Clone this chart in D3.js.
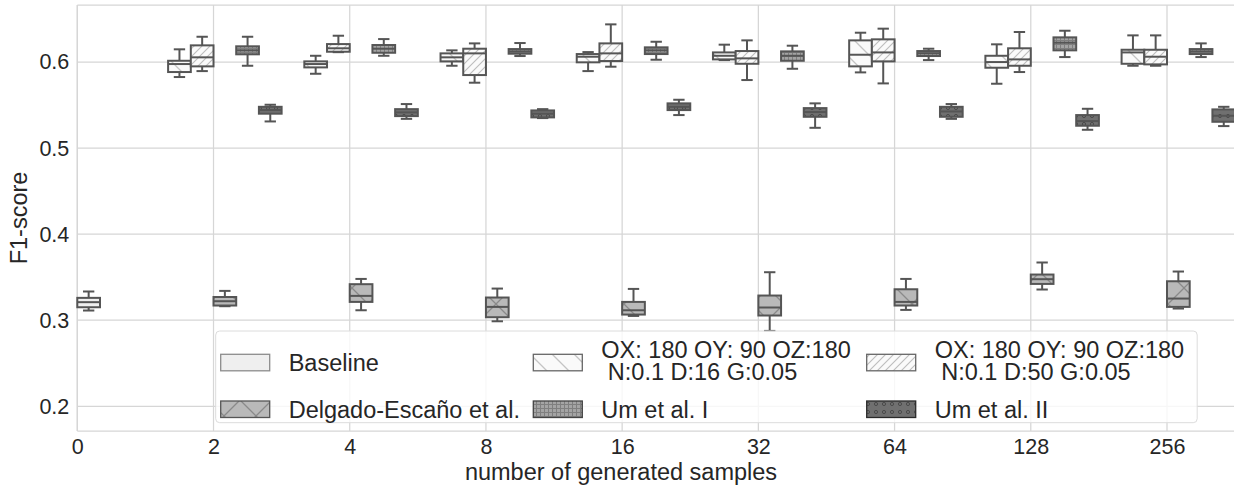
<!DOCTYPE html>
<html>
<head>
<meta charset="utf-8">
<style>
    body { margin: 0; background: #fff; }
    svg { display: block; font-family: 'Liberation Sans', Arial, sans-serif; }
    .grid line { stroke: #d6d6d6; stroke-width: 1.25; }
    .axis .domain { display: none; }
    .axis .tick line { display: none; }
    .axis .tick text { font-size: 21.5px; fill: #262626; }
</style>
</head>
<body>
<svg width="1234" height="489"></svg>
<script src="https://d3js.org/d3.v7.min.js"></script>
<script>
// categories on the x axis
const categories = ["0", "2", "4", "8", "16", "32", "64", "128", "256"];
const yTicks = [0.2, 0.3, 0.4, 0.5, 0.6];

// box stats per category: [low whisker, q1, median, q3, high whisker]
const baseline = [[0.3113, 0.3151, 0.321, 0.326, 0.3334], null, null, null, null, null, null, null, null];
const ox16 = [null,
    [0.5826, 0.5884, 0.5977, 0.6015, 0.6148], [0.5864, 0.5938, 0.5977, 0.6008, 0.6073],
    [0.5957, 0.6008, 0.6055, 0.6101, 0.6136], [0.5895, 0.5997, 0.6062, 0.6093, 0.6116],
    [0.6023, 0.6031, 0.6073, 0.6112, 0.6202], [0.588, 0.595, 0.6085, 0.6252, 0.6341],
    [0.5748, 0.5934, 0.6, 0.6073, 0.6206], [0.5957, 0.598, 0.6112, 0.6143, 0.631]];
const ox50 = [null,
    [0.5895, 0.595, 0.6055, 0.6194, 0.6294], [0.6115, 0.612, 0.616, 0.6209, 0.6306],
    [0.576, 0.5849, 0.6101, 0.6155, 0.6217], [0.5946, 0.6012, 0.6101, 0.6217, 0.6438],
    [0.5791, 0.598, 0.6043, 0.6128, 0.6252], [0.5752, 0.6008, 0.6112, 0.6264, 0.6388],
    [0.5884, 0.5957, 0.6031, 0.616, 0.6349], [0.5957, 0.5973, 0.6062, 0.6143, 0.631]];
const delgado = [null,
    [0.3163, 0.3171, 0.3221, 0.327, 0.3341], [0.3116, 0.3213, 0.3283, 0.3419, 0.348],
    [0.2988, 0.3035, 0.3155, 0.3264, 0.3368], [0.305, 0.3066, 0.3116, 0.3213, 0.3364],
    [0.2876, 0.3055, 0.3148, 0.3287, 0.3558], [0.312, 0.3171, 0.3213, 0.336, 0.348],
    [0.3357, 0.3422, 0.3477, 0.3531, 0.3671], [0.3136, 0.3155, 0.3252, 0.3453, 0.3566]];
const umI = [null,
    [0.5957, 0.609, 0.6136, 0.6183, 0.6294], [0.6073, 0.6108, 0.6155, 0.6198, 0.6267],
    [0.607, 0.6097, 0.6124, 0.6151, 0.6221], [0.6027, 0.6093, 0.6136, 0.6171, 0.6236],
    [0.5922, 0.6015, 0.6073, 0.6124, 0.619], [0.6023, 0.607, 0.6101, 0.6128, 0.6155],
    [0.6058, 0.6136, 0.6225, 0.6287, 0.6364], [0.6058, 0.6093, 0.6124, 0.6151, 0.6217]];
const umII = [null,
    [0.531, 0.54, 0.5442, 0.548, 0.5504], [0.534, 0.5372, 0.5415, 0.5453, 0.5512],
    [0.5349, 0.5357, 0.54, 0.5438, 0.5453], [0.5384, 0.5442, 0.548, 0.552, 0.5562],
    [0.5236, 0.5364, 0.5419, 0.5465, 0.552], [0.534, 0.5364, 0.5426, 0.548, 0.5512],
    [0.5213, 0.526, 0.5314, 0.5384, 0.5457], [0.5256, 0.5306, 0.5376, 0.545, 0.548]];

const seriesNames = ["Baseline", "OX: 180 OY: 90 OZ:180\n N:0.1 D:16 G:0.05", "OX: 180 OY: 90 OZ:180\n N:0.1 D:50 G:0.05",
    "Delgado-Escaño et al.", "Um et al. I", "Um et al. II"];

// series table: slot = position inside the category group (6 slots)
const series = [
    { name: seriesNames[0], stats: baseline, slot: 3, fill: "#efefef", legEdge: "#8c8c8c" },
    { name: seriesNames[1], stats: ox16, slot: 1, fill: "url(#hatchBack)", legEdge: "#666" },
    { name: seriesNames[2], stats: ox50, slot: 2, fill: "url(#hatchFwd)", legEdge: "#666" },
    { name: seriesNames[3], stats: delgado, slot: 3, fill: "url(#hatchX)", legEdge: "#555" },
    { name: seriesNames[4], stats: umI, slot: 4, fill: "url(#hatchGrid)", legEdge: "#444" },
    { name: seriesNames[5], stats: umII, slot: 5, fill: "url(#hatchDots)", legEdge: "#2a2a2a" }
];

const svg = d3.select("svg");
const margin = { top: 5, left: 77.3, bottom: 431, right: 1240 };

const x = d3.scalePoint()
    .domain(categories)
    .range([margin.left, 1167]);

const y = d3.scaleLinear()
    .domain([0.1713, 0.6663])
    .range([margin.bottom, margin.top]);

// hatch patterns
const defs = svg.append("defs");
let p = defs.append("pattern").attr("id", "hatchBack").attr("patternUnits", "userSpaceOnUse")
    .attr("width", 22).attr("height", 22);
p.append("rect").attr("width", 22).attr("height", 22).attr("fill", "#fafafa");
p.append("path").attr("d", "M-2,-2 L24,24 M-13,9 L2,24 M9,-13 L24,2")
    .attr("stroke", "#c4c4c4").attr("stroke-width", 1.3);

p = defs.append("pattern").attr("id", "hatchFwd").attr("patternUnits", "userSpaceOnUse")
    .attr("width", 8).attr("height", 8);
p.append("rect").attr("width", 8).attr("height", 8).attr("fill", "#fafafa");
p.append("path").attr("d", "M-2,10 L10,-2 M-6,6 L6,-6 M2,14 L14,2")
    .attr("stroke", "#bdbdbd").attr("stroke-width", 1.1);

p = defs.append("pattern").attr("id", "hatchX").attr("patternUnits", "userSpaceOnUse")
    .attr("width", 32).attr("height", 32);
p.append("rect").attr("width", 32).attr("height", 32).attr("fill", "#b9b9b9");
p.append("path").attr("d", "M0,0 L32,32 M32,0 L0,32")
    .attr("stroke", "#8a8a8a").attr("stroke-width", 1.3);

p = defs.append("pattern").attr("id", "hatchGrid").attr("patternUnits", "userSpaceOnUse")
    .attr("width", 4).attr("height", 4);
p.append("rect").attr("width", 4).attr("height", 4).attr("fill", "#a4a4a4");
p.append("path").attr("d", "M0,0.5 H4 M0.5,0 V4")
    .attr("stroke", "#7f7f7f").attr("stroke-width", 1);

p = defs.append("pattern").attr("id", "hatchDots").attr("patternUnits", "userSpaceOnUse")
    .attr("width", 8).attr("height", 8);
p.append("rect").attr("width", 8).attr("height", 8).attr("fill", "#707070");
p.append("circle").attr("cx", 4).attr("cy", 4).attr("r", 1.6)
    .attr("fill", "none").attr("stroke", "#4a4a4a").attr("stroke-width", 1);

// grid
const grid = svg.append("g").attr("class", "grid");
grid.selectAll(".gy").data(yTicks).join("line")
    .attr("x1", margin.left).attr("x2", margin.right)
    .attr("y1", d => y(d)).attr("y2", d => y(d));
grid.selectAll(".gx").data(categories).join("line")
    .attr("x1", d => x(d)).attr("x2", d => x(d))
    .attr("y1", margin.top).attr("y2", margin.bottom);
// spines
grid.append("line").attr("x1", margin.left).attr("x2", margin.right).attr("y1", margin.top).attr("y2", margin.top);
grid.append("line").attr("x1", margin.left).attr("x2", margin.right).attr("y1", margin.bottom).attr("y2", margin.bottom);
grid.append("line").attr("x1", margin.left).attr("x2", margin.left).attr("y1", margin.top).attr("y2", margin.bottom);

// axes
svg.append("g").attr("class", "axis")
    .attr("transform", `translate(${margin.left},0)`)
    .call(d3.axisLeft(y).tickValues(yTicks).tickFormat(d3.format(".1f")).tickSize(0).tickPadding(8));

svg.append("g").attr("class", "axis")
    .attr("transform", `translate(0,${margin.bottom})`)
    .call(d3.axisBottom(x).tickSize(0).tickPadding(8));

svg.append("text")
    .attr("x", 621).attr("y", 480)
    .attr("text-anchor", "middle")
    .style("font-size", "23.5px").style("fill", "#262626")
    .text("number of generated samples");

svg.append("text")
    .attr("transform", `translate(27,${(margin.top + margin.bottom) / 2}) rotate(-90)`)
    .attr("text-anchor", "middle")
    .style("font-size", "23.5px").style("fill", "#262626")
    .text("F1-score");

// boxes
const step = x.step();
const bw = step / 6;
const edge = "#555";

series.forEach(s => {
    const g = svg.append("g");
    const rows = s.stats.map((st, i) => ({ st: st, cat: categories[i] })).filter(d => d.st);
    const cx = d => x(d.cat) + (-0.5 + (s.slot + 0.5) / 6) * step;

    const b = g.selectAll("g").data(rows).join("g");
    // whiskers
    b.append("line").attr("x1", cx).attr("x2", cx)
        .attr("y1", d => y(d.st[3])).attr("y2", d => y(d.st[4]))
        .attr("stroke", edge).attr("stroke-width", 2);
    b.append("line").attr("x1", cx).attr("x2", cx)
        .attr("y1", d => y(d.st[1])).attr("y2", d => y(d.st[0]))
        .attr("stroke", edge).attr("stroke-width", 2);
    // caps
    [0, 4].forEach(k => {
        b.append("line")
            .attr("x1", d => cx(d) - bw / 4).attr("x2", d => cx(d) + bw / 4)
            .attr("y1", d => y(d.st[k])).attr("y2", d => y(d.st[k]))
            .attr("stroke", edge).attr("stroke-width", 2);
    });
    // box
    b.append("rect")
        .attr("x", d => cx(d) - bw / 2).attr("width", bw)
        .attr("y", d => y(d.st[3])).attr("height", d => y(d.st[1]) - y(d.st[3]))
        .attr("fill", s.fill).attr("stroke", edge).attr("stroke-width", 2);
    // median
    b.append("line")
        .attr("x1", d => cx(d) - bw / 2).attr("x2", d => cx(d) + bw / 2)
        .attr("y1", d => y(d.st[2])).attr("y2", d => y(d.st[2]))
        .attr("stroke", edge).attr("stroke-width", 2);
});

// legend
const leg = svg.append("g");
leg.append("rect")
    .attr("x", 215.7).attr("y", 331).attr("width", 981.5).attr("height", 91.7)
    .attr("rx", 4).attr("fill", "#fff").attr("fill-opacity", 0.8)
    .attr("stroke", "#dcdcdc").attr("stroke-width", 1);

const colX = [220.7, 533.3, 866.7];
const rowY = [354.3, 401];
// column-major order: Baseline, Delgado | OX16, Um I | OX50, Um II
const legOrder = [0, 3, 1, 4, 2, 5];
legOrder.forEach((si, k) => {
    const s = series[si];
    const px = colX[Math.floor(k / 2)];
    const py = rowY[k % 2];
    leg.append("rect")
        .attr("x", px).attr("y", py).attr("width", 49).attr("height", 16.5)
        .attr("fill", s.fill).attr("stroke", s.legEdge).attr("stroke-width", 1.3);
    const lines = s.name.split("\n");
    const t = leg.append("text")
        .attr("x", px + 68)
        .style("font-size", "23.5px").style("fill", "#262626")
        .attr("xml:space", "preserve").style("white-space", "pre");
    if (lines.length === 1) {
        t.attr("y", py + 16.8).text(lines[0]);
    } else {
        lines.forEach((ln, j) => {
            t.append("tspan").attr("x", px + 68).attr("y", py + 3.4 + j * 22.5).text(ln);
        });
    }
});
</script>
</body>
</html>
